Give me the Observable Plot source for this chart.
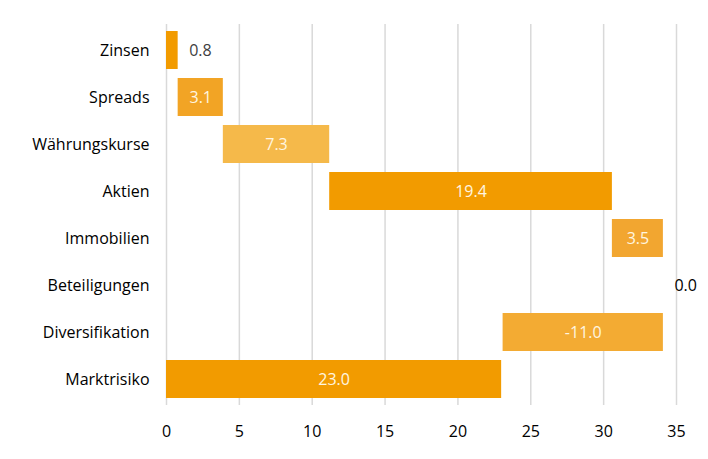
<!DOCTYPE html>
<html>
<head>
<meta charset="utf-8">
<script src="https://cdn.jsdelivr.net/npm/d3@7"></script>
<script src="https://cdn.jsdelivr.net/npm/@observablehq/plot@0.6"></script>
<style>
  html, body { margin: 0; padding: 0; background: #fff; }
  #chart { width: 708px; height: 459px; }
</style>
</head>
<body>
<div id="chart"></div>
<script>
const categories = ["Zinsen", "Spreads", "Währungskurse", "Aktien", "Immobilien", "Beteiligungen", "Diversifikation", "Marktrisiko"];
const values = [0.8, 3.1, 7.3, 19.4, 3.5, 0.0, -11.0, 23.0];
const isTotal = [false, false, false, false, false, false, false, true];
const colors = ["#f29b00", "#f2a425", "#f5b94a", "#f29b00", "#f2a630", "#f2a630", "#f3ab33", "#f29b00"];
const labelInside = [false, true, true, true, true, false, true, true];
const xTicks = [0, 5, 10, 15, 20, 25, 30, 35];

let run = 0;
const rows = categories.map((c, i) => {
  let x1, x2;
  if (isTotal[i]) { x1 = 0; x2 = values[i]; }
  else { x1 = run; x2 = run + values[i]; run = x2; }
  return {cat: c, value: values[i], x1, x2, color: colors[i], inside: labelInside[i],
          label: values[i].toFixed(1)};
});

const font = "Open Sans, sans-serif";
const chart = Plot.plot({
  width: 708,
  height: 459,
  marginLeft: 166,
  marginRight: 32,
  marginTop: 24,
  marginBottom: 54,
  style: {fontFamily: font, fontSize: "16px", color: "#262626", background: "#fff"},
  x: {domain: [0, 35], ticks: xTicks, grid: false, label: null},
  y: {domain: categories, paddingInner: 0.2, paddingOuter: 0.1, label: null},
  marks: [
    Plot.ruleX(xTicks, {x: d => d, stroke: "#d9d9d9", strokeWidth: 1.5}),
    Plot.barX(rows, {y: "cat", x1: "x1", x2: "x2", fill: "color"}),
    Plot.text(rows.filter(d => d.inside), {
      y: "cat", x: d => (d.x1 + d.x2) / 2, text: "label",
      fill: "#fff6e0", fontSize: 16
    }),
    Plot.text(rows.filter(d => !d.inside), {
      y: "cat", x: d => Math.max(d.x1, d.x2), text: "label",
      textAnchor: "start", dx: 11,
      fill: d => d.value === 0 ? "#000" : "#404040", fontSize: 16
    }),
    Plot.axisX({ticks: xTicks, tickSize: 0, tickPadding: 20, fontSize: 16, fill: "#000", label: null}),
    Plot.axisY({tickSize: 0, tickPadding: 17, fontSize: 16, fill: "#000", label: null})
  ]
});
document.getElementById("chart").appendChild(chart);
</script>
</body>
</html>
